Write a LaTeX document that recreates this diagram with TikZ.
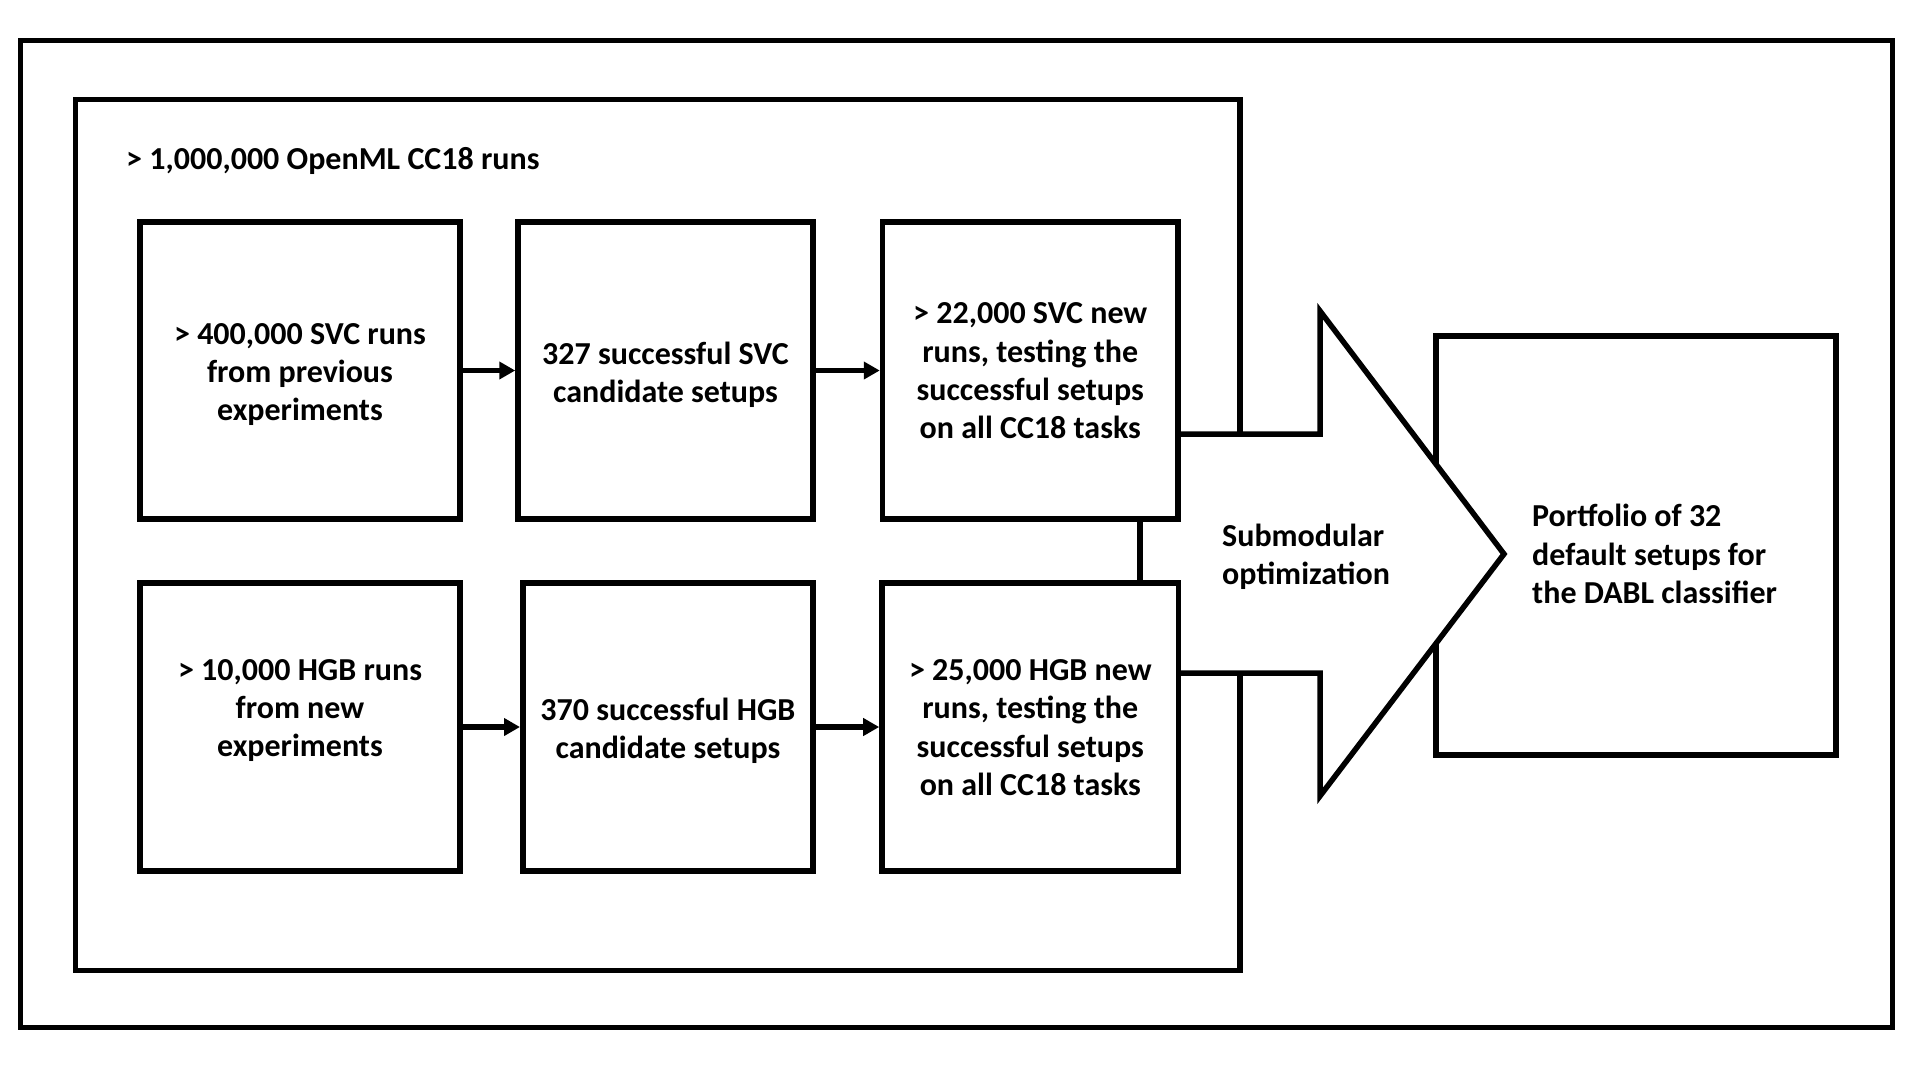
\documentclass[tikz,border=0pt]{standalone}
\usepackage{fontspec}
\setmainfont{Carlito}
\usetikzlibrary{arrows.meta}
\begin{document}
\begin{tikzpicture}[x=1pt,y=-1pt,
  frame/.style={draw=black,line width=5.5pt},
  stepbox/.style={draw=black,line width=5.5pt,fill=white,minimum height=#1,inner sep=0pt},
  txt/.style={inner sep=0pt,font=\fontsize{32}{38.4}\selectfont\bfseries},
  btxt/.style={txt,align=center,yshift=-4pt},
  btxtf/.style={txt,align=center,yshift=-0.5pt},
  arr/.style={line width=5.5pt,-{Triangle[length=16pt,width=17pt]}},
  conn/.style={line width=5.5pt}]
\useasboundingbox (0,0) rectangle (1920,1080);
\fill[white] (0,0) rectangle (1920,1080);
% frames
\draw[frame] (20.5,40.5) rectangle (1892.5,1027.5);
\draw[frame] (75.5,99.5) rectangle (1240,970.5);
\node[txt,anchor=west] (title) at (126,160.5) {> 1,000,000 OpenML CC18 runs};
% portfolio box
\node[stepbox=419pt,minimum width=400pt] (pf) at (1636,545.5) {};
\node[txt,anchor=west,align=left] (pft) at (1532,554) {Portfolio of 32\\default setups for\\the DABL classifier};
% big arrow
\coordinate (a1) at (1178,434);
\coordinate (a2) at (1320,434);
\coordinate (a3) at (1320,311);
\coordinate (a4) at (1504,554);
\coordinate (a5) at (1320,796);
\coordinate (a6) at (1320,673);
\coordinate (a7) at (1178,673);
\fill[white] (a1) -- (a2) -- (a3) -- (a4) -- (a5) -- (a6) -- (a7) -- cycle;
\draw[conn] (a1) -- (a2) -- (a3) -- (a4) -- (a5) -- (a6) -- (a7);
\node[txt,anchor=west,align=left] (sub) at (1222,557) {Submodular\\optimization};
% boxes
\node[stepbox=297pt,minimum width=320pt] (b1) at (300,370.5) {};
\node[stepbox=297pt,minimum width=295pt] (b2) at (665.5,370.5) {};
\node[stepbox=297pt,minimum width=295.5pt] (b3) at (1030.25,370.5) {};
\node[stepbox=288pt,minimum width=320pt] (b4) at (300,727) {};
\node[stepbox=288pt,minimum width=290.3pt] (b5) at (667.9,727) {};
\node[stepbox=288pt,minimum width=296.7pt] (b6) at (1030.3,727) {};
\node[btxt] (b1t) at (b1) {> 400,000 SVC runs\\from previous\\experiments};
\node[btxt] (b2t) at (b2) {327 successful SVC\\candidate setups};
\node[btxtf] (b3t) at (b3) {> 22,000 SVC new\\runs, testing the\\successful setups\\on all CC18 tasks};
\node[txt,align=center] (b4t) at (300,710.5) {> 10,000 HGB runs\\from new\\experiments};
\node[btxt] (b5t) at (b5) {370 successful HGB\\candidate setups};
\node[btxtf] (b6t) at (b6) {> 25,000 HGB new\\runs, testing the\\successful setups\\on all CC18 tasks};
% connectors
\draw[arr] (b1.east) -- (b2.west);
\draw[arr] (b2.east) -- (b3.west);
\draw[arr] (b4.east) -- (b5.west);
\draw[arr] (b5.east) -- (b6.west);
\coordinate (vc) at (1140,0);
\draw[conn] (vc |- b3.south) -- (vc |- b6.north);
\end{tikzpicture}
\end{document}
